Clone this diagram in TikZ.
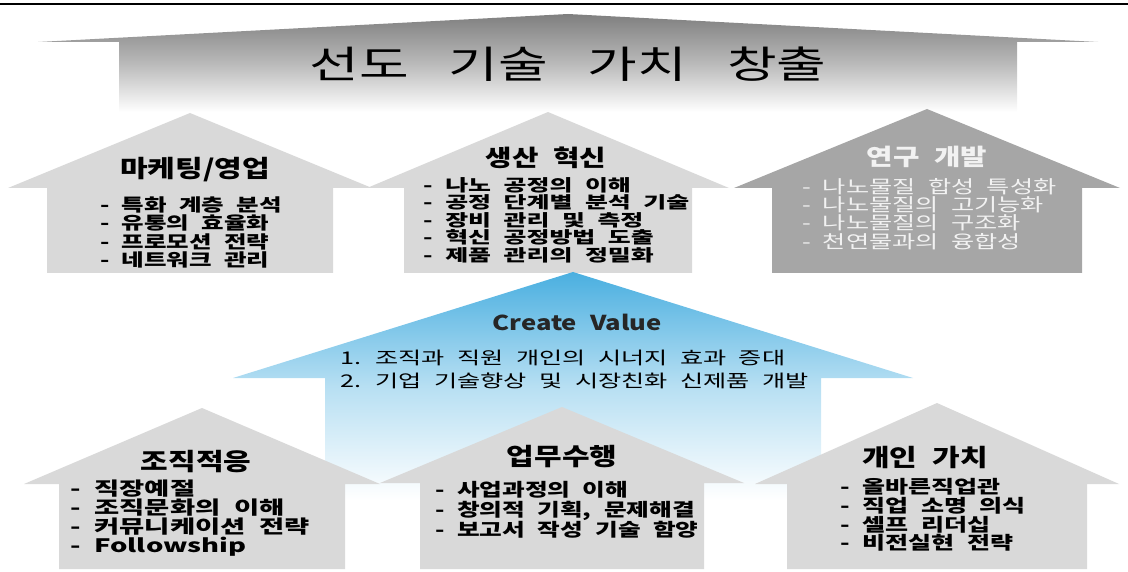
\documentclass[tikz,border=0pt]{standalone}
\usepackage{fontspec}
\setmainfont{Noto Sans CJK KR}[FakeStretch=1.25, WordSpace=2.2]
\definecolor{lgray}{HTML}{D9D9D9}
\definecolor{mgray}{HTML}{A6A6A6}
\definecolor{tgray}{HTML}{7F7F7F}
\definecolor{ltext}{HTML}{F2F2F2}
\definecolor{blue1}{HTML}{4AAFE0}
\newcommand\hpath[6]{(#1-#5,#6) -- (#1-#5,#3) -- (#1-#4,#3) -- (#1,#2) -- (#1+#4,#3) -- (#1+#5,#3) -- (#1+#5,#6) -- cycle}
\newcommand\fsz[3]{\fontsize{#1}{#2}\selectfont\addfontfeature{FakeStretch=#3}}
\tikzset{
  lbox/.style={fill=lgray, draw=none},
  dbox/.style={fill=mgray, draw=none},
  ttl/.style={font=\fontsize{23}{25}\selectfont\bfseries, inner sep=0},
  bttl/.style={font=\fontsize{24}{26}\selectfont\bfseries, inner sep=0},
  itm/.style={align=left, anchor=west, inner sep=0},
}
\begin{document}
\begin{tikzpicture}[x=1pt,y=-1pt]
\useasboundingbox (0,0) rectangle (1128,572);
% top line
\draw[line width=2.5pt] (0,4) -- (1128,4);
% top arrow
\path[top color=tgray, bottom color=white, middle color=gray!55] \hpath{568}{14}{42}{530}{449}{112};
\node[inner sep=0, font=\fsz{38}{40}{1.42}] (top) at (568,64) {선도\hspace{40pt}기술\hspace{40pt}가치\hspace{40pt}창출};
% row 2
\path[lbox] \hpath{190}{113}{188}{182}{143}{273};
\path[lbox] \hpath{548}{112}{188}{181}{144}{273};
\path[dbox] \hpath{927}{109}{188}{193}{155}{273};
\node[ttl, font=\fontsize{24}{26}\selectfont\bfseries] (mkt) at (195,170) {마케팅/영업};
\node[itm, font=\fsz{17.5}{18.3}{1.40}\bfseries] (mktl) at (100,232.5) {- 특화 계층 분석\\- 유통의 효율화\\- 프로모션 전략\\- 네트워크 관리};
\node[ttl] (prd) at (546,158) {생산 혁신};
\node[itm, font=\fsz{16.5}{17.5}{1.51}\bfseries] (prdl) at (423,220) {- 나노 공정의 이해\\- 공정 단계별 분석 기술\\- 장비 관리 및 측정\\- 혁신 공정방법 도출\\- 제품 관리의 정밀화};
\node[ttl, text=ltext] (rnd) at (927,157) {연구 개발};
\node[itm, text=ltext, font=\fsz{18}{18.3}{1.40}] (rndl) at (802,214) {-\hspace{12pt}나노물질 합성 특성화\\-\hspace{12pt}나노물질의 고기능화\\-\hspace{12pt}나노물질의 구조화\\-\hspace{12pt}천연물과의 융합성};
% blue arrow
\path[top color=blue1, bottom color=white, middle color=blue1!40] \hpath{573}{272}{378}{340}{248}{500};
\node[inner sep=0, font=\fontsize{20.5}{22}\selectfont\bfseries, text=black!85] (cv) at (577,322) {Create Value};
\node[itm, font=\fsz{17.5}{23}{1.44}] (cvl) at (340,369.5) {1. 조직과 직원 개인의 시너지 효과 증대\\2. 기업 기술향상 및 시장친화 신제품 개발};
% bottom row
\path[lbox] \hpath{202}{408}{484}{178}{143}{569};
\path[lbox] \hpath{562}{407}{483}{182}{142}{569};
\path[lbox] \hpath{937}{403}{484}{182}{150}{569};
\node[bttl] (org) at (196,462) {조직적응};
\node[itm, font=\fsz{18.5}{19}{1.48}\bfseries] (orgl) at (70,518) {- 직장예절\\- 조직문화의 이해\\- 커뮤니케이션 전략\\- Followship};
\node[bttl] (work) at (562,457) {업무수행};
\node[itm, font=\fsz{18}{20}{1.37}\bfseries] (workl) at (435,510) {- 사업과정의 이해\\- 창의적 기획, 문제해결\\- 보고서 작성 기술 함양};
\node[bttl] (self) at (925,457) {개인 가치};
\node[itm, font=\fsz{18}{18.7}{1.39}\bfseries] (selfl) at (840,515) {- 올바른직업관\\- 직업 소명 의식\\- 셀프 리더십\\- 비전실현 전략};
\end{tikzpicture}
\end{document}
